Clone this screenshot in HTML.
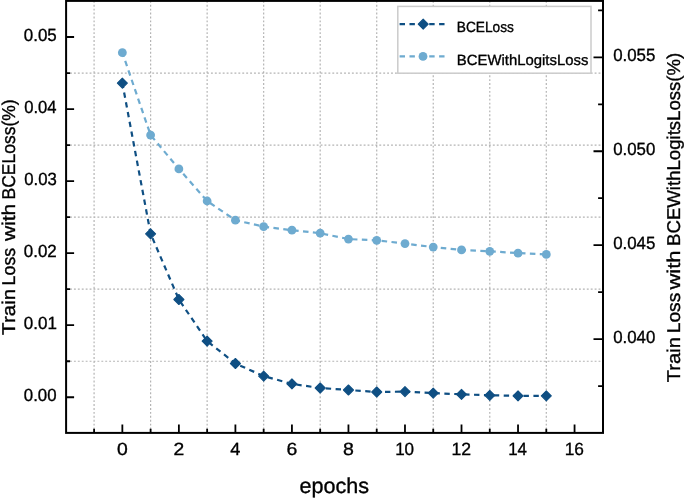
<!DOCTYPE html><html><head><meta charset="utf-8"><style>html,body{margin:0;padding:0;background:#fff;width:685px;height:498px;overflow:hidden}svg{display:block;will-change:transform}text{font-family:"Liberation Sans",sans-serif;fill:#000;stroke:#000;stroke-width:0.35px;text-rendering:geometricPrecision}</style></head><body>
<svg width="685" height="498" viewBox="0 0 685 498">
<rect x="0" y="0" width="685" height="498" fill="#fff"/>
<path d="M94.09 0.84V432.4 M150.61 0.84V432.4 M207.14 0.84V432.4 M263.66 0.84V432.4 M320.19 0.84V432.4 M376.72 0.84V432.4 M433.24 0.84V432.4 M489.77 0.84V432.4 M546.30 0.84V432.4 M66.1 361.23H603.0 M66.1 289.18H603.0 M66.1 217.12H603.0 M66.1 145.08H603.0 M66.1 73.03H603.0" stroke="#b4b4b4" stroke-width="1.2" stroke-dasharray="1.9 2.015" fill="none"/>
<path d="M122.35 52.65L150.61 135.10L178.88 168.90L207.14 201.00L235.40 220.20L263.66 226.60L291.93 230.20L320.19 233.20L348.45 239.10L376.72 240.30L404.98 243.60L433.24 247.10L461.51 249.90L489.77 251.30L518.03 253.10L546.30 254.40" stroke="#6eabd0" stroke-width="2.2" stroke-dasharray="5.55 4.374" stroke-dashoffset="1.124" stroke-linejoin="round" fill="none"/>
<path d="M122.35 83.10L150.61 233.80L178.88 299.50L207.14 341.10L235.40 363.50L263.66 376.10L291.93 383.90L320.19 388.00L348.45 390.00L376.72 392.00L404.98 391.60L433.24 393.10L461.51 394.30L489.77 395.30L518.03 395.80L546.30 395.80" stroke="#0f4f83" stroke-width="2.2" stroke-dasharray="5.4 4.5" stroke-dashoffset="0.32" stroke-linejoin="round" fill="none"/>
<circle cx="122.35" cy="52.65" r="4.4" fill="#6eabd0"/><circle cx="150.61" cy="135.10" r="4.4" fill="#6eabd0"/><circle cx="178.88" cy="168.90" r="4.4" fill="#6eabd0"/><circle cx="207.14" cy="201.00" r="4.4" fill="#6eabd0"/><circle cx="235.40" cy="220.20" r="4.4" fill="#6eabd0"/><circle cx="263.66" cy="226.60" r="4.4" fill="#6eabd0"/><circle cx="291.93" cy="230.20" r="4.4" fill="#6eabd0"/><circle cx="320.19" cy="233.20" r="4.4" fill="#6eabd0"/><circle cx="348.45" cy="239.10" r="4.4" fill="#6eabd0"/><circle cx="376.72" cy="240.30" r="4.4" fill="#6eabd0"/><circle cx="404.98" cy="243.60" r="4.4" fill="#6eabd0"/><circle cx="433.24" cy="247.10" r="4.4" fill="#6eabd0"/><circle cx="461.51" cy="249.90" r="4.4" fill="#6eabd0"/><circle cx="489.77" cy="251.30" r="4.4" fill="#6eabd0"/><circle cx="518.03" cy="253.10" r="4.4" fill="#6eabd0"/><circle cx="546.30" cy="254.40" r="4.4" fill="#6eabd0"/>
<path d="M122.35 78.10L127.35 83.10L122.35 88.10L117.35 83.10Z M150.61 228.80L155.61 233.80L150.61 238.80L145.61 233.80Z M178.88 294.50L183.88 299.50L178.88 304.50L173.88 299.50Z M207.14 336.10L212.14 341.10L207.14 346.10L202.14 341.10Z M235.40 358.50L240.40 363.50L235.40 368.50L230.40 363.50Z M263.66 371.10L268.66 376.10L263.66 381.10L258.66 376.10Z M291.93 378.90L296.93 383.90L291.93 388.90L286.93 383.90Z M320.19 383.00L325.19 388.00L320.19 393.00L315.19 388.00Z M348.45 385.00L353.45 390.00L348.45 395.00L343.45 390.00Z M376.72 387.00L381.72 392.00L376.72 397.00L371.72 392.00Z M404.98 386.60L409.98 391.60L404.98 396.60L399.98 391.60Z M433.24 388.10L438.24 393.10L433.24 398.10L428.24 393.10Z M461.51 389.30L466.51 394.30L461.51 399.30L456.51 394.30Z M489.77 390.30L494.77 395.30L489.77 400.30L484.77 395.30Z M518.03 390.80L523.03 395.80L518.03 400.80L513.03 395.80Z M546.30 390.80L551.30 395.80L546.30 400.80L541.30 395.80Z" fill="#0f4f83" stroke="#0f4f83" stroke-width="1.1" stroke-linejoin="round"/>
<rect x="66.1" y="0.9" width="536.9" height="432.0" fill="none" stroke="#000" stroke-width="2"/>
<path d="M66.1 397.25H74.1 M66.1 325.20H74.1 M66.1 253.15H74.1 M66.1 181.10H74.1 M66.1 109.05H74.1 M66.1 37.00H74.1 M66.1 361.23H70.1 M66.1 289.18H70.1 M66.1 217.12H70.1 M66.1 145.08H70.1 M66.1 73.03H70.1 M94.09 432.9V428.7 M122.35 432.9V424.6 M150.61 432.9V428.7 M178.88 432.9V424.6 M207.14 432.9V428.7 M235.40 432.9V424.6 M263.66 432.9V428.7 M291.93 432.9V424.6 M320.19 432.9V428.7 M348.45 432.9V424.6 M376.72 432.9V428.7 M404.98 432.9V424.6 M433.24 432.9V428.7 M461.51 432.9V424.6 M489.77 432.9V428.7 M518.03 432.9V424.6 M546.30 432.9V428.7 M574.56 432.9V424.6 M603.0 339.09H593.5 M603.0 245.17H593.5 M603.0 151.26H593.5 M603.0 57.35H593.5 M603.0 386.04H598.1 M603.0 292.13H598.1 M603.0 198.22H598.1 M603.0 104.30H598.1 M603.0 10.39H598.1" stroke="#000" stroke-width="1.8" fill="none"/>
<rect x="397.8" y="6.4" width="193.2" height="66.8" fill="#fff" stroke="#cbcbcb" stroke-width="1.5"/>
<path d="M399.6 24.2H445" stroke="#0f4f83" stroke-width="2.2" stroke-dasharray="5.4 4.48" fill="none"/>
<path d="M423.2 19.2L428.2 24.2L423.2 29.2L418.2 24.2Z" fill="#0f4f83" stroke="#0f4f83" stroke-width="1.1" stroke-linejoin="round"/>
<path d="M399.6 56.4H445" stroke="#6eabd0" stroke-width="2.2" stroke-dasharray="5.4 4.48" fill="none"/>
<circle cx="423.0" cy="56.4" r="4.4" fill="#6eabd0"/>
<text x="40.21" y="400.73" font-size="17.7" text-anchor="middle" textLength="32.76" lengthAdjust="spacingAndGlyphs">0.00</text>
<text x="40.35" y="328.64" font-size="17.7" text-anchor="middle" textLength="33.10" lengthAdjust="spacingAndGlyphs">0.01</text>
<text x="40.29" y="256.64" font-size="17.7" text-anchor="middle" textLength="32.95" lengthAdjust="spacingAndGlyphs">0.02</text>
<text x="40.50" y="184.59" font-size="17.7" text-anchor="middle" textLength="32.60" lengthAdjust="spacingAndGlyphs">0.03</text>
<text x="40.37" y="112.54" font-size="17.7" text-anchor="middle" textLength="32.40" lengthAdjust="spacingAndGlyphs">0.04</text>
<text x="40.31" y="40.50" font-size="17.7" text-anchor="middle" textLength="33.00" lengthAdjust="spacingAndGlyphs">0.05</text>
<text x="634.19" y="342.74" font-size="17.7" text-anchor="middle" textLength="42.13" lengthAdjust="spacingAndGlyphs">0.040</text>
<text x="634.26" y="248.64" font-size="17.7" text-anchor="middle" textLength="42.25" lengthAdjust="spacingAndGlyphs">0.045</text>
<text x="634.19" y="154.57" font-size="17.7" text-anchor="middle" textLength="42.13" lengthAdjust="spacingAndGlyphs">0.050</text>
<text x="634.26" y="60.86" font-size="17.7" text-anchor="middle" textLength="42.25" lengthAdjust="spacingAndGlyphs">0.055</text>
<text x="122.33" y="454.55" font-size="17.7" text-anchor="middle" textLength="10.78" lengthAdjust="spacingAndGlyphs">0</text>
<text x="178.78" y="454.70" font-size="17.7" text-anchor="middle" textLength="10.73" lengthAdjust="spacingAndGlyphs">2</text>
<text x="235.34" y="454.62" font-size="17.7" text-anchor="middle" textLength="10.07" lengthAdjust="spacingAndGlyphs">4</text>
<text x="291.77" y="454.71" font-size="17.7" text-anchor="middle" textLength="10.79" lengthAdjust="spacingAndGlyphs">6</text>
<text x="348.41" y="454.72" font-size="17.7" text-anchor="middle" textLength="10.88" lengthAdjust="spacingAndGlyphs">8</text>
<text x="404.64" y="454.73" font-size="17.7" text-anchor="middle" textLength="18.97" lengthAdjust="spacingAndGlyphs">10</text>
<text x="461.37" y="454.57" font-size="17.7" text-anchor="middle" textLength="19.61" lengthAdjust="spacingAndGlyphs">12</text>
<text x="517.55" y="454.61" font-size="17.7" text-anchor="middle" textLength="18.81" lengthAdjust="spacingAndGlyphs">14</text>
<text x="574.37" y="454.72" font-size="17.7" text-anchor="middle" textLength="19.24" lengthAdjust="spacingAndGlyphs">16</text>
<text x="334.38" y="492.62" font-size="21.4" text-anchor="middle" textLength="69.54" lengthAdjust="spacingAndGlyphs">epochs</text>
<text x="485.31" y="31.64" font-size="14.8" text-anchor="middle" textLength="57.08" lengthAdjust="spacingAndGlyphs">BCELoss</text>
<text x="522.63" y="64.50" font-size="14.8" text-anchor="middle" textLength="131.58" lengthAdjust="spacingAndGlyphs">BCEWithLogitsLoss</text>
<text transform="translate(14.60,311.85) rotate(-90)" font-size="18.5" text-anchor="middle" textLength="46.08" lengthAdjust="spacingAndGlyphs">Train</text>
<text transform="translate(14.60,266.62) rotate(-90)" font-size="18.5" text-anchor="middle" textLength="37.60" lengthAdjust="spacingAndGlyphs">Loss</text>
<text transform="translate(14.60,222.39) rotate(-90)" font-size="18.5" text-anchor="middle" textLength="37.38" lengthAdjust="spacingAndGlyphs">with</text>
<text transform="translate(14.60,149.42) rotate(-90)" font-size="18.5" text-anchor="middle" textLength="100.12" lengthAdjust="spacingAndGlyphs">BCELoss(%)</text>
<text transform="translate(679.60,359.75) rotate(-90)" font-size="18.5" text-anchor="middle" textLength="45.17" lengthAdjust="spacingAndGlyphs">Train</text>
<text transform="translate(679.60,313.02) rotate(-90)" font-size="18.5" text-anchor="middle" textLength="40.59" lengthAdjust="spacingAndGlyphs">Loss</text>
<text transform="translate(679.60,270.02) rotate(-90)" font-size="18.5" text-anchor="middle" textLength="39.18" lengthAdjust="spacingAndGlyphs">with</text>
<text transform="translate(679.60,149.33) rotate(-90)" font-size="18.5" text-anchor="middle" textLength="193.20" lengthAdjust="spacingAndGlyphs">BCEWithLogitsLoss(%)</text>
</svg></body></html>
